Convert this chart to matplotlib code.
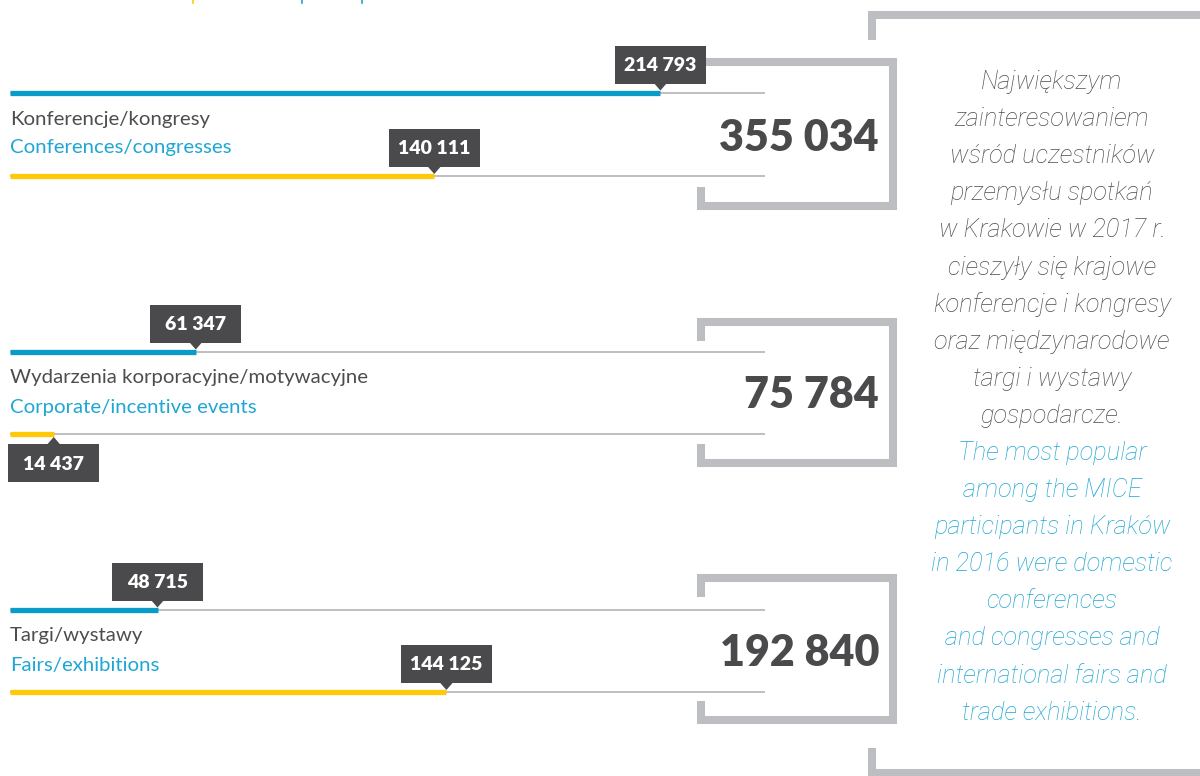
import matplotlib
matplotlib.use("Agg")
import matplotlib.pyplot as plt
from matplotlib.patches import Polygon, Rectangle

# ---------------- data ----------------
categories_pl = ["Konferencje/kongresy", "Wydarzenia korporacyjne/motywacyjne", "Targi/wystawy"]
categories_en = ["Conferences/congresses", "Corporate/incentive events", "Fairs/exhibitions"]
domestic = [214793, 61347, 48715]          # blue bars
international = [140111, 14437, 144125]    # yellow bars
totals = [355034, 75784, 192840]

note_pl = ["Największym", "zainteresowaniem", "wśród uczestników", "przemysłu spotkań",
           "w Krakowie w 2017 r.", "cieszyły się krajowe", "konferencje i kongresy",
           "oraz międzynarodowe", "targi i wystawy", "gospodarcze."]
note_en = ["The most popular", "among the MICE", "participants in Kraków",
           "in 2016 were domestic", "conferences", "and congresses and",
           "international fairs and", "trade exhibitions."]

# ---------------- style ----------------
W, H = 1200, 776
BLUE = "#0a9cc9"
BLUE_TXT = "#1ea7d4"
YELLOW = "#ffc90a"
DARK = "#4a4a4c"
GREY_LINE = "#b4b4b6"
BRACKET = "#bdbec1"
TXT = "#4d4d4f"
FONT = "Lato"

def fmt(v):
    return f"{v:,}".replace(",", " ")

fig = plt.figure(figsize=(W / 100, H / 100), dpi=100)
fig.patch.set_facecolor("white")

# overlay axes in pixel coordinates (origin top-left)
ov = fig.add_axes([0, 0, 1, 1])
ov.set_xlim(0, W)
ov.set_ylim(H, 0)
ov.axis("off")

# data axes for the bars: x in values, y in pixel rows
ax = fig.add_axes([10 / W, 0, 755 / W, 1])
ax.set_xlim(0, 249340)
ax.set_ylim(H, 0)
ax.axis("off")
ax.set_zorder(2)
ax.patch.set_alpha(0)

row_blue_y = [92.5, 351.5, 609.5]
row_yel_y = [176, 434, 692]
label_pl_y = [119, 377, 636]
label_en_y = [148, 407, 665]
total_y = [138, 395, 653]
bracket_top = [62, 322, 578]
bracket_bot = [206, 463, 720]
yellow_below = [False, True, False]

def callout(xv, ybar, text, below=False):
    # bar end in display pixel -> overlay pixel coords
    px = ax.transData.transform((xv, 0))[0]
    bw, bh = 91, 38
    if below:
        top = ybar + 10
        tri = [(px - 7, top + 1), (px + 7, top + 1), (px, top - 7)]
    else:
        top = ybar - 9 - bh
        tri = [(px - 7, top + bh - 1), (px + 7, top + bh - 1), (px, top + bh + 7)]
    ov.add_patch(Rectangle((px - bw / 2, top), bw, bh, facecolor=DARK, edgecolor="none", zorder=5))
    ov.add_patch(Polygon(tri, closed=True, facecolor=DARK, edgecolor="none", zorder=5))
    ov.text(px, top + bh / 2 + 1, text, color="white", fontsize=14, fontweight="heavy",
            family=FONT, ha="center", va="center", zorder=6)

ov.set_zorder(3)
ov.patch.set_alpha(0)

for i in range(3):
    yb, yy = row_blue_y[i], row_yel_y[i]
    # grey base lines
    ax.axhline(yb, color=GREY_LINE, lw=1.2, zorder=1)
    ax.axhline(yy, color=GREY_LINE, lw=1.2, zorder=1)
    # bars
    ax.hlines(yb, 0, domestic[i], color=BLUE, lw=3.8, zorder=2)
    ax.hlines(yy, 0, international[i], color=YELLOW, lw=3.8, zorder=2)
    # labels
    ov.text(10, label_pl_y[i], categories_pl[i], color=TXT, fontsize=14.7, family=FONT,
            ha="left", va="center")
    ov.text(10, label_en_y[i], categories_en[i], color=BLUE_TXT, fontsize=14.7, family=FONT,
            ha="left", va="center")
    callout(domestic[i], yb, fmt(domestic[i]))
    callout(international[i], yy, fmt(international[i]), below=yellow_below[i])
    # bracket
    t, b = bracket_top[i], bracket_bot[i]
    ov.plot([701, 701, 893, 893, 701, 701], [t + 19, t, t, b, b, b - 19],
            color=BRACKET, lw=5.8, solid_joinstyle="miter", solid_capstyle="butt", zorder=1)
    # total
    ov.text(879, total_y[i], fmt(totals[i]), color=DARK, fontsize=31, fontweight="heavy",
            family=FONT, ha="right", va="center", zorder=4)

# big right bracket
ov.plot([872, 872, 1205], [40, 15, 15], color=BRACKET, lw=5.8,
        solid_joinstyle="miter", solid_capstyle="butt")
ov.plot([872, 872, 1205], [748, 773, 773], color=BRACKET, lw=5.8,
        solid_joinstyle="miter", solid_capstyle="butt")

# note text
y0, dy = 82, 37.1
for k, line in enumerate(note_pl + note_en):
    col = TXT if k < len(note_pl) else BLUE_TXT
    ov.text(1052, y0 + k * dy, line, color=col, fontsize=18.3, family="Roboto",
            fontweight="light", style="italic", ha="center", va="center")

# cut-off legend fragments at top edge
ov.plot([193, 193], [0, 2.5], color=YELLOW, lw=1.2)
ov.plot([302, 302], [0, 2.5], color=BLUE_TXT, lw=1.2)
ov.plot([362, 362], [0, 2.5], color=BLUE_TXT, lw=1.2)

fig.savefig("out.png", dpi=100, facecolor="white")
